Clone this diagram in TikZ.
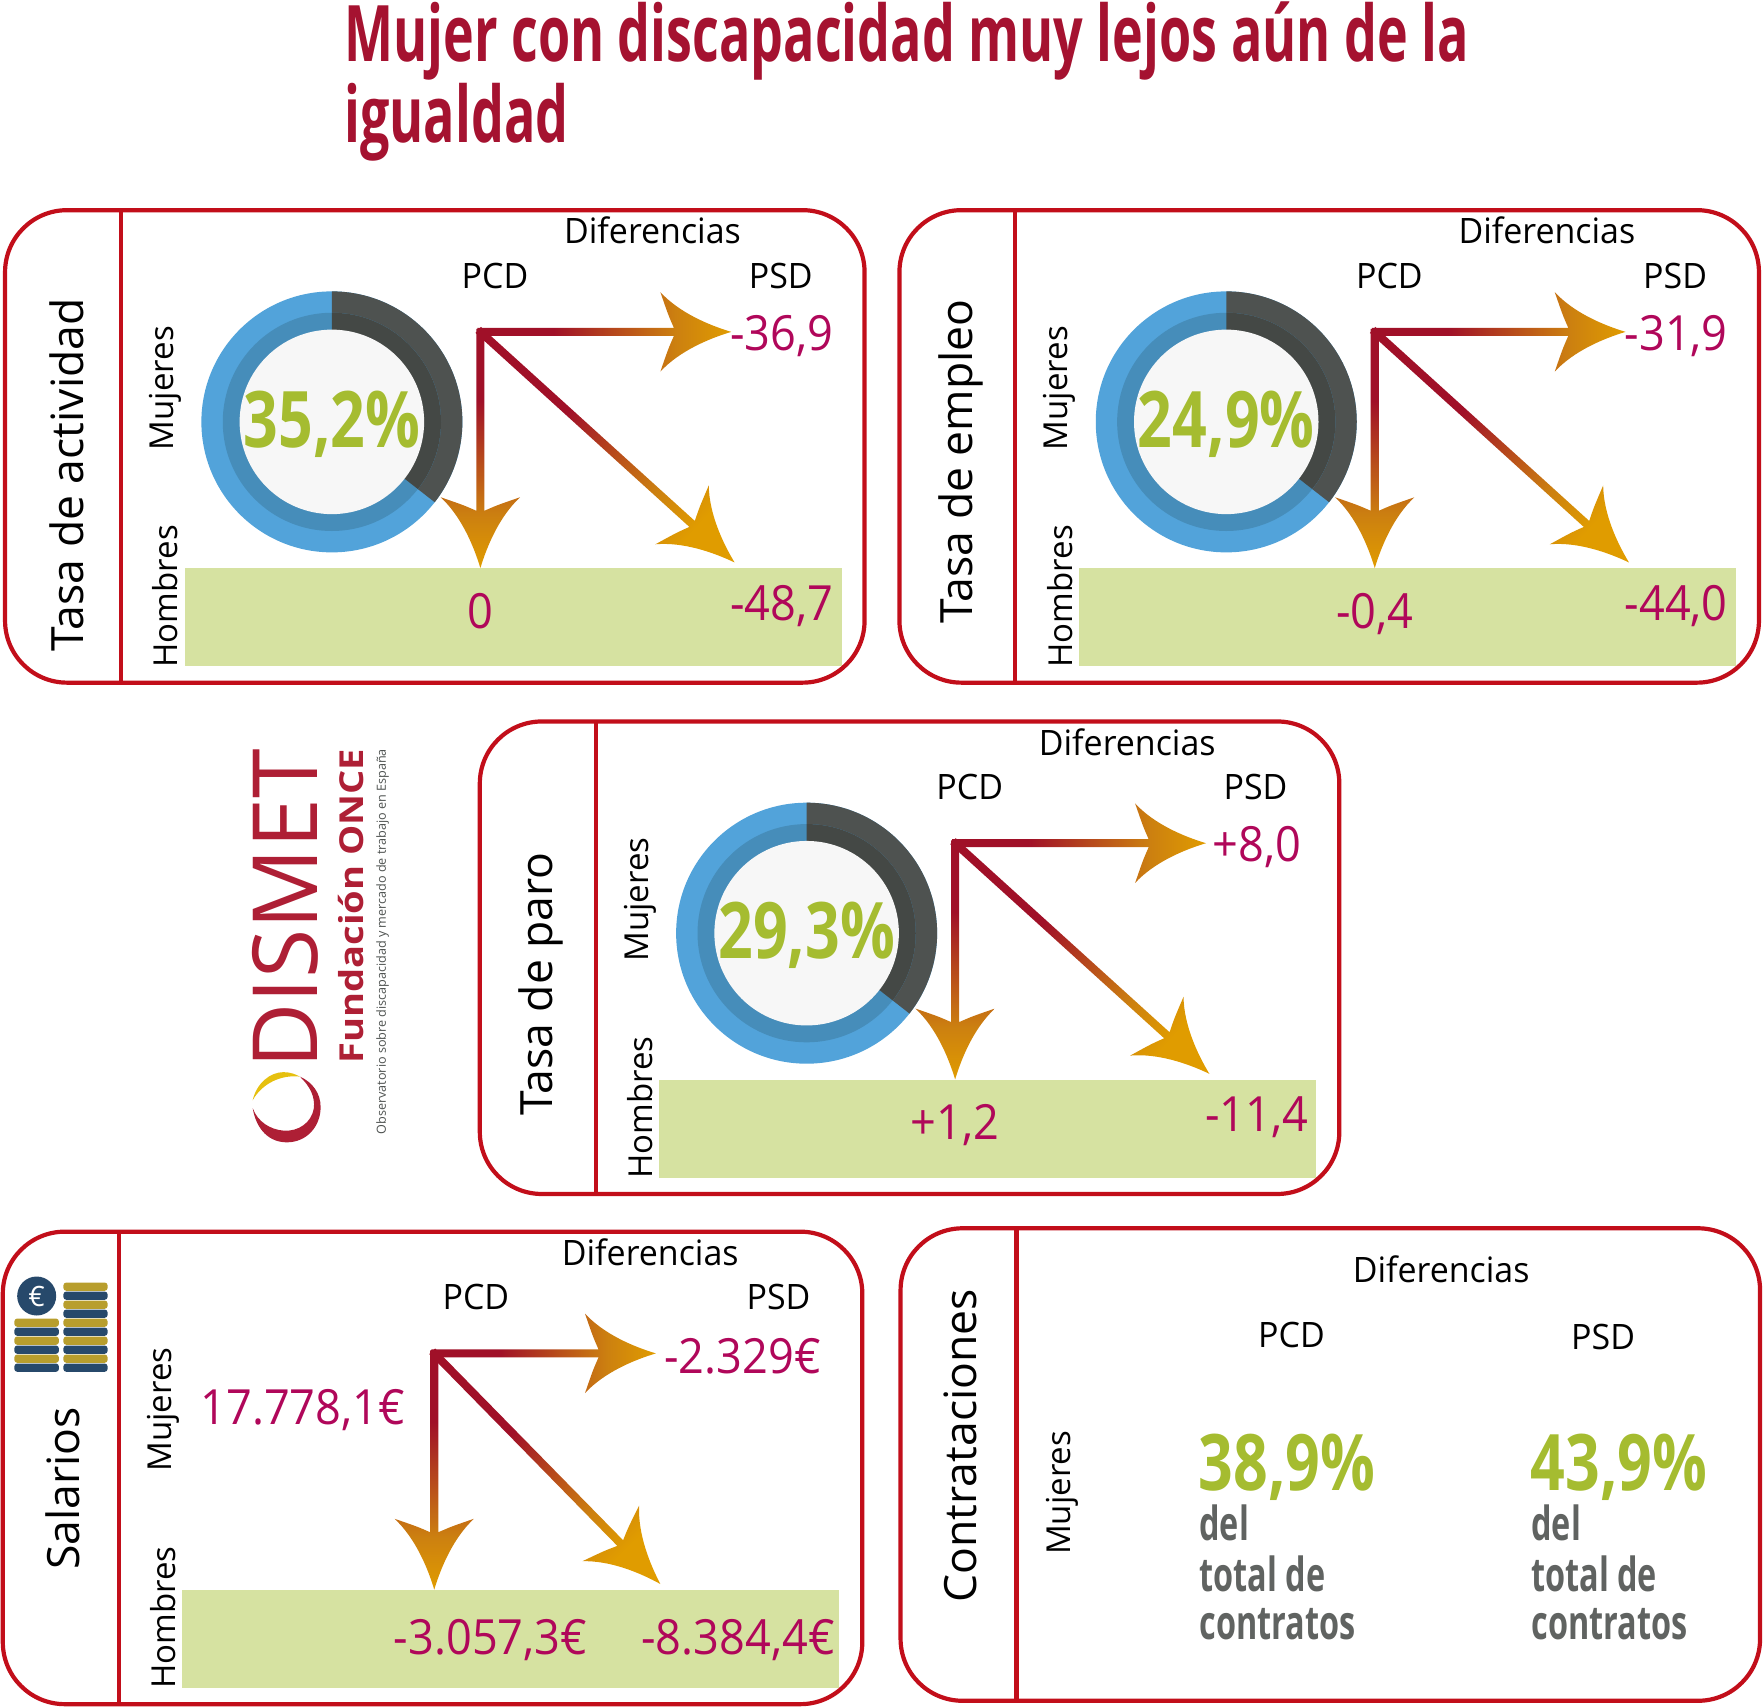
\documentclass[tikz,border=0pt]{standalone}
\usepackage{fontspec}
\setmainfont{Open Sans}
\usetikzlibrary{positioning}
\usetikzlibrary{calc}
\definecolor{rojomarco}{HTML}{C20E1A}
\definecolor{rojotitulo}{HTML}{A51230}
\definecolor{rojologo}{HTML}{AE1F35}
\definecolor{rojoflecha}{HTML}{A01028}
\definecolor{ocre}{HTML}{CC8010}
\definecolor{naranja}{HTML}{E09C00}
\definecolor{valor}{HTML}{B0075A}
\definecolor{verde}{HTML}{A5BC30}
\definecolor{verdefondo}{HTML}{D6E2A1}
\definecolor{azul}{HTML}{52A3DA}
\definecolor{azulosc}{HTML}{468DBA}
\definecolor{gris}{HTML}{4E5250}
\definecolor{grisosc}{HTML}{444845}
\definecolor{blanco}{HTML}{F7F7F7}
\definecolor{oro}{HTML}{B89E2D}
\definecolor{marino}{HTML}{27496B}
\definecolor{amarillo}{HTML}{E6C00F}
\pgfdeclarehorizontalshading{flecha}{100bp}{color(0bp)=(rojoflecha); color(40bp)=(rojoflecha); color(64bp)=(ocre); color(75bp)=(naranja); color(100bp)=(naranja)}
\tikzset{
	marco/.style={draw=rojomarco, line width=4.2pt, rounded corners=62pt, minimum width=859.5pt, minimum height=472.5pt, anchor=north west, inner sep=0pt, outer sep=0pt},
	linea/.style={draw=rojomarco, line width=4.2pt},
	fondo/.style={fill=verdefondo, minimum width=657pt, minimum height=98pt, anchor=north west, inner sep=0pt},
	tema/.style={rotate=90, font=\fontsize{44.5}{44.5}\selectfont},
	sexo/.style={rotate=90, font=\fontsize{33}{33}\selectfont},
	cabecera/.style={font=\fontsize{35}{35}\selectfont, transform shape, xscale=.97},
	valores/.style={text=valor, text height=35pt, text depth=7pt, font=\fontsize{48.5}{48.5}\selectfont, transform shape, xscale=.93},
	cifra/.style={text=verde, font=\bfseries\fontsize{78}{78}\selectfont, transform shape, xscale=.78},
	nota/.style={text=gris!90!white, anchor=west, font=\bfseries\fontsize{47}{47}\selectfont, transform shape, xscale=.69},
	moneda/.style={rounded corners=3pt}
}
\newcommand{\flechade}[2]{%
	\pgfpointdiff{\pgfpointanchor{#1}{center}}{\pgfpointanchor{#2}{center}}
	\pgfgetlastxy{\difx}{\dify}
	\pgfmathsetmacro\ang{atan2(\dify,\difx)}
	\pgfmathsetmacro\lon{veclen(\difx,\dify)/1.125}
	\begin{scope}[shift={(#1)},rotate=\ang]
		\shade[shading=flecha,shading angle=\ang] (-2.6,-3.6) -- (\lon-51,-3.6) .. controls (\lon-56,-15) .. (\lon-63,-35.3) .. controls (\lon-46,-17) and (\lon-20,-6) .. (\lon,0) .. controls (\lon-20,6) and (\lon-46,17) .. (\lon-63,35.3) .. controls (\lon-56,15) .. (\lon-51,3.6) -- (-2.6,3.6) -- cycle;
	\end{scope}}
\newcommand{\donut}[1]{%
	\fill[azul] (291,189) circle (116);
	\fill[gris] (291,189) -- (291,73) arc (90:-38:116 and -116) -- cycle;
	\fill[azulosc] (291,189) circle (97);
	\fill[grisosc] (291,189) -- (291,92) arc (90:-38:97 and -97) -- cycle;
	\node (#1c) at (291,189) [circle, fill=blanco, minimum size=184.5pt, inner sep=0pt] {};}
% paneles con donut
\newcommand{\panelgrande}[9]{%
	\begin{scope}[shift={(#2,#3)}]
		\node (#1m) at (.5,.8) [marco] {};
		\coordinate (#1a) at (103.5,.8);
		\coordinate (#1b) at (103.5,421);
		\draw[linea] (#1a) -- (#1b);
		\node (#1t) at (55,#5) [tema] {#4};
		\node (#1f) at (160,319) [fondo] {};
		\donut{#1}
		\node (#1d) at (576,19) [cabecera] {Diferencias};
		\node (#1p) at (436,59) [cabecera] {PCD};
		\node (#1s) at (690,59) [cabecera] {PSD};
		\node (#1x) at (143,159) [sexo] {Mujeres};
		\node (#1y) at (143,344) [sexo] {Hombres};
		\node (#1n) at (291,191) [cifra] {#6};
		\coordinate (#1o) at (423,109);
		\coordinate (#1e1) at (646,109);
		\coordinate (#1e2) at (423,319);
		\coordinate (#1e3) at (649,314);
		\flechade{#1o}{#1e1}
		\flechade{#1o}{#1e2}
		\flechade{#1o}{#1e3}
		\node (#1v1) at (691,113) [valores] {#7};
		\node (#1v2) at (423,360) [valores] {#8};
		\node (#1v3) at (691,353) [valores] {#9};
	\end{scope}}
\begin{document}
\begin{tikzpicture}[x=1.125pt,y=-1.125pt]
	\useasboundingbox (0,0) rectangle (1568,1518);
	\node (titulo) at (306,1) [anchor=north west, align=left, text=rojotitulo, font=\bfseries\fontsize{78}{81}\selectfont, transform shape, xscale=.667, inner sep=0pt] {Mujer con discapacidad muy lejos aún de la\\igualdad};
	\panelgrande{a}{4}{186}{Tasa de actividad}{236}{35,2\%}{-36,9}{0}{-48,7}
	\panelgrande{b}{799}{186}{Tasa de empleo}{224}{24,9\%}{-31,9}{-0,4}{-44,0}
	\panelgrande{c}{426}{640.5}{Tasa de paro}{234}{29,3\%}{+8,0}{+1,2}{-11,4}
	% logo
	\node (dismet) at (254,808) [rotate=90, text=rojologo, font=\fontsize{90}{90}\selectfont, inner sep=0pt, transform shape, xscale=.995] {DISMET};
	\node (once) at (312,805.5) [rotate=90, text=rojologo, font=\bfseries\fontsize{33}{33}\selectfont, inner sep=0pt, transform shape, xscale=1.155] {Fundación ONCE};
	\node (obs) at (340,837) [rotate=90, text=gris, font=\fontsize{12.6}{13}\selectfont, inner sep=0pt] {Observatorio sobre discapacidad y mercado de trabajo en España};
	\fill[rojologo] (224.6,985) .. controls (228,1005) and (240,1015.4) .. (255,1015.4) .. controls (272,1015.4) and (285,1002) .. (285,984) .. controls (285,972) and (278,962) .. (266.6,957) .. controls (276,966) and (280,975) .. (279,985) .. controls (277,998) and (265,1006) .. (252,1005) .. controls (240,1004) and (229,997) .. (224.6,985) -- cycle;
	\fill[amarillo] (224.6,978) .. controls (228,963) and (240,953) .. (252,953) .. controls (258,953) and (263,955) .. (266.6,957) .. controls (250,955) and (233,963) .. (224.6,978) -- cycle;
	% salarios
	\begin{scope}[shift={(2,1094)}]
		\node (sm) at (.5,.8) [marco] {};
		\coordinate (sa) at (103.5,.8);
		\coordinate (sb) at (103.5,421);
		\draw[linea] (sa) -- (sb);
		\node (st) at (54,229) [tema] {Salarios};
		\node (sf) at (160,319) [fondo] {};
		\node (sd) at (576,19) [cabecera] {Diferencias};
		\node (sp) at (421,59) [cabecera] {PCD};
		\node (ss) at (690,59) [cabecera] {PSD};
		\node (sx) at (143,159) [sexo] {Mujeres};
		\node (sy) at (143,344) [sexo] {Hombres};
		\coordinate (so) at (384,109);
		\coordinate (se1) at (581,109);
		\coordinate (se2) at (384,319);
		\coordinate (se3) at (585,314);
		\flechade{so}{se1}
		\flechade{so}{se2}
		\flechade{so}{se3}
		\node (sv0) at (267,160) [valores] {17.778,1€};
		\node (sv1) at (658,114) [valores] {-2.329€};
		\node (sv2) at (434,364) [valores] {-3.057,3€};
		\node (sv3) at (654,364) [valores] {-8.384,4€};
		\foreach \i/\tono in {0/oro,1/marino,2/oro,3/marino,4/oro,5/marino}
			\fill[\tono,moneda] (10.7,78+8*\i) rectangle (50.4,85.4+8*\i);
		\foreach \i/\tono in {0/oro,1/marino,2/oro,3/marino,4/oro,5/marino,6/oro,7/marino,8/oro,9/marino}
			\fill[\tono,moneda] (54.3,46+8*\i) rectangle (93.7,53.4+8*\i);
		\node (euro) at (30.6,58) [circle, fill=marino, text=white, minimum size=39pt, inner sep=0pt, font=\fontsize{28}{28}\selectfont] {€};
	\end{scope}
	% contrataciones
	\begin{scope}[shift={(800,1091)}]
		\node (km) at (.5,.8) [marco] {};
		\coordinate (ka) at (103.5,.8);
		\coordinate (kb) at (103.5,421);
		\draw[linea] (ka) -- (kb);
		\node (kt) at (54,194) [tema] {Contrataciones};
		\node (kd) at (481,37) [cabecera] {Diferencias};
		\node (kp) at (348,96) [cabecera] {PCD};
		\node (ks) at (625,97) [cabecera] {PSD};
		\node (kx) at (144,236) [sexo] {Mujeres};
		\node (kn1) at (344,213) [cifra] {38,9\%};
		\node (kn2) at (639,213) [cifra] {43,9\%};
		\foreach \xn/\nm in {264/u, 559/w} {
			\node (k\nm1) at (\xn,263) [nota] {del};
			\node (k\nm2) at (\xn,308) [nota] {total de};
			\node (k\nm3) at (\xn,353) [nota] {contratos};
		}
	\end{scope}
\end{tikzpicture}
\end{document}
